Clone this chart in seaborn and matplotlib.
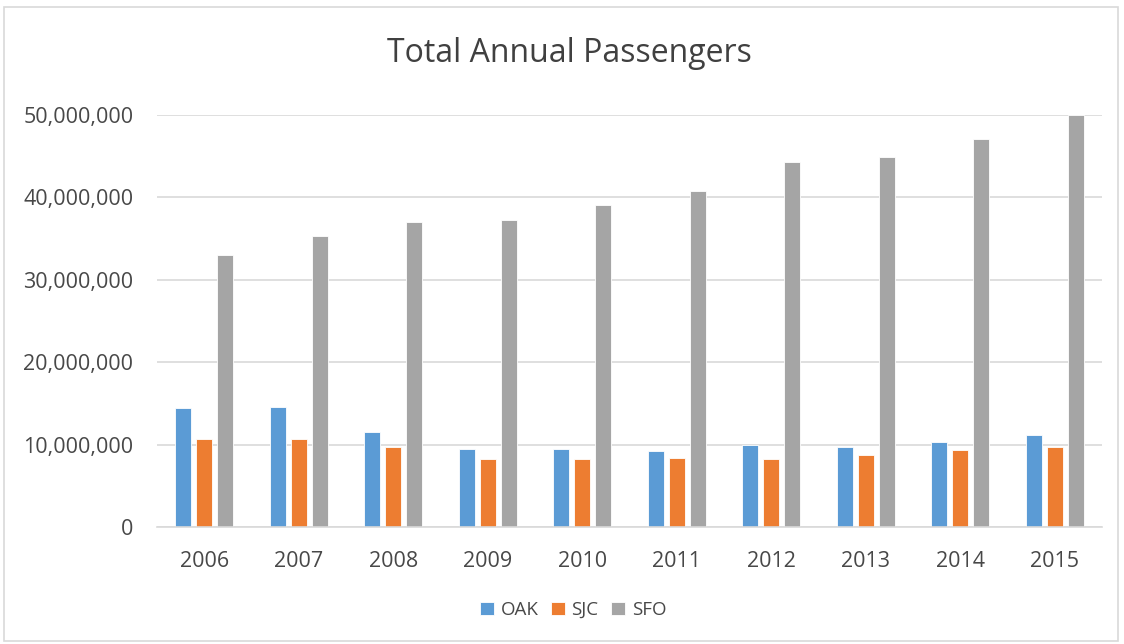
import matplotlib
matplotlib.use("Agg")
import matplotlib.pyplot as plt
import matplotlib.ticker as mticker
from matplotlib.patches import Rectangle
import seaborn as sns
import pandas as pd

years = ["2006", "2007", "2008", "2009", "2010", "2011", "2012", "2013", "2014", "2015"]
oak = [14.5e6, 14.6e6, 11.5e6, 9.5e6, 9.5e6, 9.2e6, 10.0e6, 9.7e6, 10.3e6, 11.2e6]
sjc = [10.7e6, 10.65e6, 9.7e6, 8.3e6, 8.25e6, 8.4e6, 8.3e6, 8.7e6, 9.35e6, 9.75e6]
sfo = [33.05e6, 35.3e6, 37.0e6, 37.2e6, 39.1e6, 40.8e6, 44.3e6, 44.9e6, 47.1e6, 50.0e6]
airports = ["OAK", "SJC", "SFO"]
colors = ["#5B9BD5", "#ED7D31", "#A5A5A5"]

df = pd.DataFrame({
    "Year": years * 3,
    "Airport": ["OAK"] * 10 + ["SJC"] * 10 + ["SFO"] * 10,
    "Passengers": oak + sjc + sfo,
})

sns.set_style("white")
plt.rcParams["font.family"] = ["Open Sans", "DejaVu Sans"]

fig = plt.figure(figsize=(11.24, 6.44), dpi=100)
ax = fig.add_axes([157 / 1124, 1 - 527 / 644, (1102 - 157) / 1124, (527 - 115) / 644])

sns.barplot(data=df, x="Year", y="Passengers", hue="Airport", hue_order=airports,
            palette=colors, width=0.666, gap=0.22, ax=ax, legend=True,
            edgecolor="white", linewidth=0.6, saturation=1)

ax.set_ylim(0, 50e6)
ax.set_xlim(-0.5, 9.5)
ax.set_yticks([0, 10e6, 20e6, 30e6, 40e6, 50e6])
ax.yaxis.set_major_formatter(mticker.FuncFormatter(lambda v, p: f"{int(v):,}"))
ax.grid(axis="y", color="#D9D9D9", linewidth=1.2)
ax.set_axisbelow(True)
for s in ["top", "right", "left"]:
    ax.spines[s].set_visible(False)
ax.spines["bottom"].set_color("#D9D9D9")
ax.spines["bottom"].set_linewidth(1.2)
ax.tick_params(axis="both", length=0, labelsize=15.5, colors="#484848")
ax.tick_params(axis="y", pad=17)
ax.tick_params(axis="x", pad=17)
ax.set_xlabel("")
ax.set_ylabel("")

fig.text(569 / 1124, 1 - 54 / 644, "Total Annual Passengers", ha="center", va="center",
         fontsize=23, color="#404040")

handles, labels = ax.get_legend_handles_labels()
ax.legend_.remove()
fig.legend(handles, labels, loc="center", bbox_to_anchor=(573 / 1124, 1 - 610 / 644),
           ncol=3, frameon=False, fontsize=13.5, handlelength=0.75, handleheight=0.75,
           handletextpad=0.35, columnspacing=0.66, labelcolor="#484848")

fig.patches.append(Rectangle((4 / 1124, 1 - 641 / 644), 1114 / 1124, 634 / 644,
                             transform=fig.transFigure, fill=False,
                             edgecolor="#D9D9D9", linewidth=1.2))

fig.savefig("out.png", dpi=100, facecolor="white")
